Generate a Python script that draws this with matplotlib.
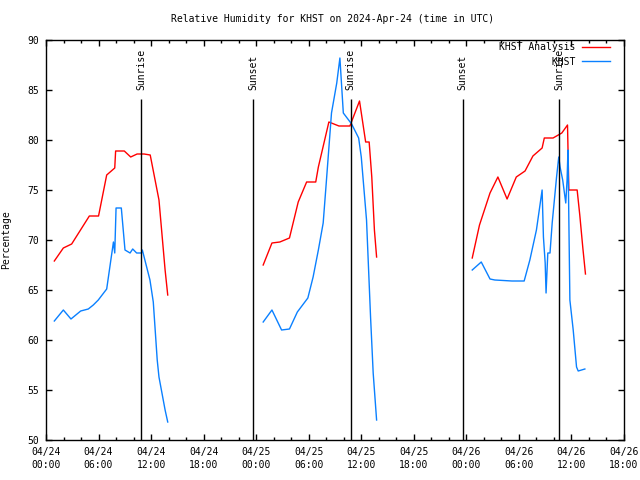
import matplotlib
matplotlib.use("Agg")
import matplotlib.pyplot as plt
from matplotlib.ticker import MultipleLocator

plt.rcParams['font.family'] = ['DejaVu Sans Mono']
FS = 7

# hours since 2024-04-24 00:00 UTC
an1_t = [0.95, 1.98, 2.93, 4.95, 6.0, 6.93, 7.85, 7.95, 8.94, 9.67, 10.4, 11.2, 11.9, 12.9, 13.6, 13.9]
an1_v = [67.9, 69.2, 69.6, 72.4, 72.4, 76.5, 77.2, 78.9, 78.9, 78.3, 78.6, 78.6, 78.5, 74.0, 67.0, 64.5]
an2_t = [24.8, 25.8, 26.7, 27.8, 28.8, 29.76, 30.8, 31.1, 32.3, 33.45, 34.7, 35.8, 36.5, 36.9, 37.2, 37.5, 37.75]
an2_v = [67.5, 69.7, 69.8, 70.2, 73.8, 75.8, 75.8, 77.3, 81.8, 81.4, 81.4, 83.9, 79.8, 79.8, 76.3, 71.0, 68.3]
an3_t = [48.67, 49.5, 50.7, 51.6, 52.65, 53.7, 54.7, 55.6, 56.65, 56.9, 57.9, 58.9, 59.55, 59.7, 60.65, 60.95, 61.3, 61.6]
an3_v = [68.2, 71.5, 74.7, 76.3, 74.1, 76.3, 76.9, 78.4, 79.2, 80.2, 80.2, 80.7, 81.5, 75.0, 75.0, 72.5, 69.2, 66.6]

ob1_t = [0.95, 1.98, 2.85, 3.96, 4.83, 5.4, 5.97, 6.93, 7.7, 7.85, 8.0, 8.6, 9.02, 9.6, 9.9, 10.35, 10.9, 11.0, 11.87, 12.25, 12.7, 12.9, 13.6, 13.9]
ob1_v = [61.9, 63.0, 62.1, 62.9, 63.1, 63.5, 64.0, 65.1, 69.8, 68.7, 73.2, 73.2, 69.0, 68.7, 69.1, 68.7, 68.7, 69.0, 66.0, 63.8, 58.0, 56.3, 53.0, 51.8]
ob2_t = [24.8, 25.8, 26.9, 27.8, 28.7, 29.9, 30.5, 31.1, 31.65, 32.0, 32.6, 33.2, 33.56, 33.95, 34.9, 35.7, 36.0, 36.6, 37.06, 37.36, 37.75]
ob2_v = [61.8, 63.0, 61.0, 61.1, 62.8, 64.2, 66.3, 69.0, 71.7, 75.7, 82.7, 85.7, 88.2, 82.7, 81.6, 80.2, 78.3, 72.0, 62.3, 56.7, 52.0]
ob3_t = [48.67, 49.7, 50.7, 51.25, 53.2, 54.6, 55.25, 56.0, 56.65, 56.8, 57.0, 57.1, 57.3, 57.55, 57.8, 58.3, 58.55, 58.7, 59.0, 59.35, 59.5, 59.6, 59.82, 60.2, 60.58, 60.77, 61.53]
ob3_v = [67.0, 67.8, 66.1, 66.0, 65.9, 65.9, 68.0, 71.0, 75.0, 70.3, 67.7, 64.7, 68.7, 68.7, 71.7, 76.3, 78.3, 77.3, 76.0, 73.7, 76.0, 79.0, 64.0, 61.0, 57.3, 56.9, 57.1]

sun_t = [10.88, 23.67, 34.78, 47.56, 58.6]
sun_lbl = ['Sunrise', 'Sunset', 'Sunrise', 'Sunset', 'Sunrise']

xtick_pos = [0, 6, 12, 18, 24, 30, 36, 42, 48, 54, 60, 66]
xtick_lbl = ['04/24\n00:00', '04/24\n06:00', '04/24\n12:00', '04/24\n18:00',
             '04/25\n00:00', '04/25\n06:00', '04/25\n12:00', '04/25\n18:00',
             '04/26\n00:00', '04/26\n06:00', '04/26\n12:00', '04/26\n18:00']
yticks = [50, 55, 60, 65, 70, 75, 80, 85, 90]

RED = '#ff0000'
BLUE = '#0a80ff'

fig = plt.figure(figsize=(6.4, 4.8), dpi=100)
ax = fig.add_axes([46/640, 40/480, 578/640, 400/480])

for t, v in [(an1_t, an1_v), (an2_t, an2_v), (an3_t, an3_v)]:
    ax.plot(t, v, color=RED, lw=1.0)
for t, v in [(ob1_t, ob1_v), (ob2_t, ob2_v), (ob3_t, ob3_v)]:
    ax.plot(t, v, color=BLUE, lw=1.0)

for t, lbl in zip(sun_t, sun_lbl):
    ax.vlines(t, 50, 84.1, color='black', lw=1.0)
    ax.text(t, 85.0, lbl, rotation=90, ha='center', va='bottom', fontsize=FS)

ax.plot([], [], color=RED, lw=1.0, label='KHST Analysis')
ax.plot([], [], color=BLUE, lw=1.0, label='         KHST')
h, l = ax.get_legend_handles_labels()
h, l = h[-2:], l[-2:]
ax.legend(h, l, loc='upper right', bbox_to_anchor=((610-46)/578, 1-(42-40)/400),
          frameon=False, markerfirst=False, prop={'family': 'DejaVu Sans Mono', 'size': FS},
          handlelength=2.9, handletextpad=0.7, borderaxespad=0, borderpad=0, labelspacing=0.5)

ax.set_xlim(0, 66)
ax.set_ylim(50, 90)
ax.set_xticks(xtick_pos)
ax.set_xticklabels(xtick_lbl, fontsize=FS, linespacing=1.35)
ax.xaxis.set_minor_locator(MultipleLocator(2))
ax.set_yticks(yticks)
ax.set_yticklabels([str(y) for y in yticks], fontsize=FS)
ax.tick_params(which='both', direction='in', top=True, right=True, width=1.0)
ax.tick_params(which='major', length=4.5)
ax.tick_params(which='minor', length=2.5)
ax.tick_params(axis='x', pad=5)
ax.tick_params(axis='y', pad=5)
for s in ax.spines.values():
    s.set_linewidth(1.0)

ax.set_ylabel('Percentage', fontsize=FS)
ax.yaxis.set_label_coords((11-46)/578, 0.5)
fig.text(333/640, 1-19/480, 'Relative Humidity for KHST on 2024-Apr-24 (time in UTC)',
         ha='center', va='center', fontsize=FS)

fig.savefig('out.png', dpi=100)
